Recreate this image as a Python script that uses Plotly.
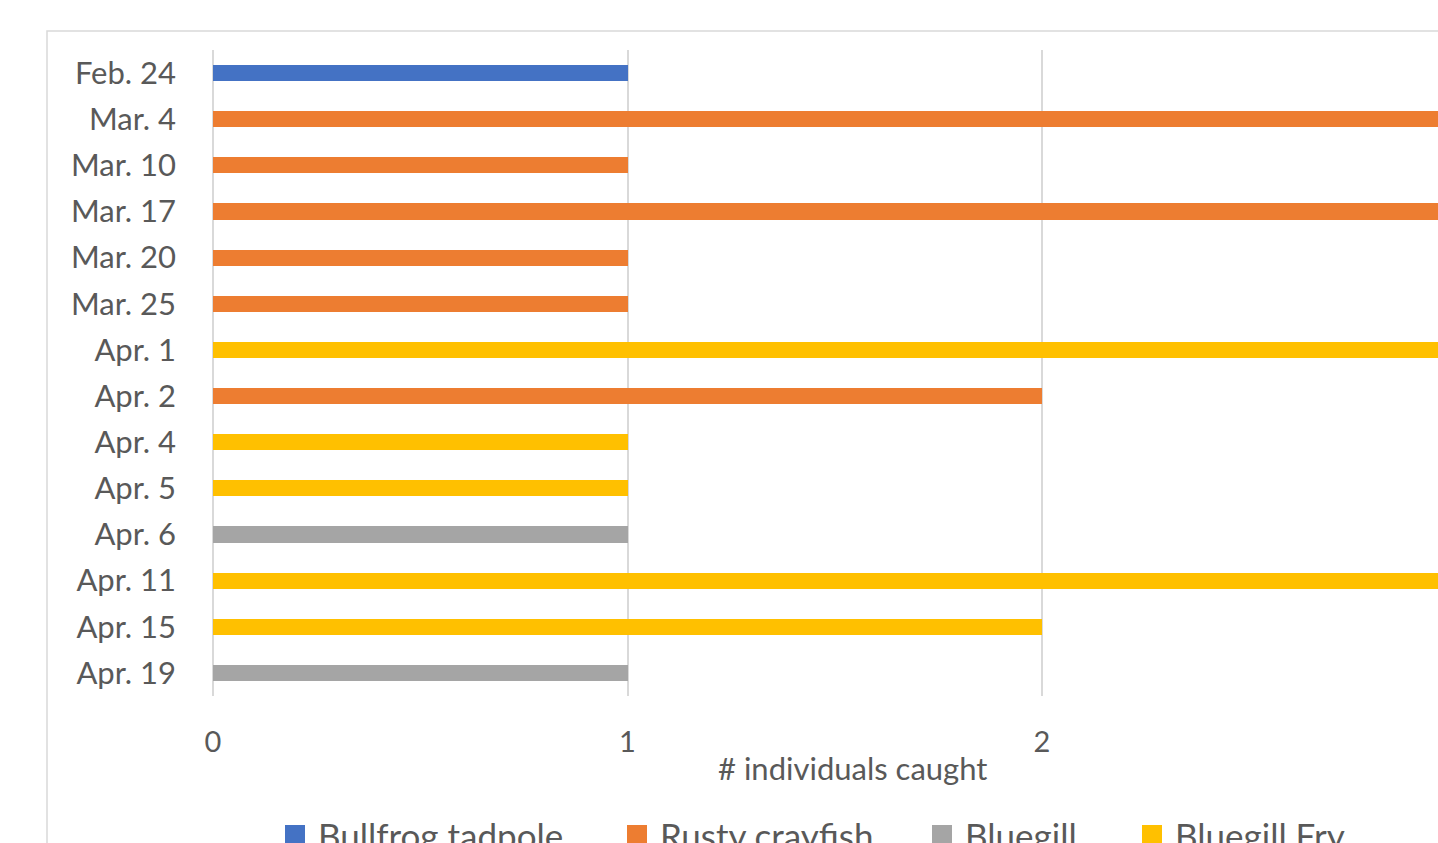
import plotly.graph_objects as go

# Sampling dates (top to bottom) and catch counts per species
dates = ["Feb. 24", "Mar. 4", "Mar. 10", "Mar. 17", "Mar. 20", "Mar. 25", "Apr. 1",
         "Apr. 2", "Apr. 4", "Apr. 5", "Apr. 6", "Apr. 11", "Apr. 15", "Apr. 19"]
bullfrog_tadpole = [1, 0, 0, 0, 0, 0, 0, 0, 0, 0, 0, 0, 0, 0]
rusty_crayfish   = [0, 3, 1, 3, 1, 1, 0, 2, 0, 0, 0, 0, 0, 0]
bluegill         = [0, 0, 0, 0, 0, 0, 0, 0, 0, 0, 1, 0, 0, 1]
bluegill_fry     = [0, 0, 0, 0, 0, 0, 3, 0, 1, 1, 0, 3, 2, 0]
x_ticks = [0, 1, 2, 3]

series = [
    ("Bullfrog tadpole", bullfrog_tadpole, "#4472C4"),
    ("Rusty crayfish", rusty_crayfish, "#ED7D31"),
    ("Bluegill", bluegill, "#A5A5A5"),
    ("Bluegill Fry", bluegill_fry, "#FFC000"),
]

FONT = "Lato"
TXT = "#595959"
GRID = "#D9D9D9"

W, H = 1438, 843
ML, MT, MB = 213, 50, 147
PW, PH = W - ML, H - MT - MB
unit_px = 414.5


def px_x(px):
    return (px - ML) / PW


def px_y(py):
    return (MT + PH - py) / PH


fig = go.Figure()
for name, vals, color in series:
    fig.add_trace(go.Bar(
        y=dates, x=[v if v else None for v in vals], name=name, orientation="h",
        marker=dict(color=color, line=dict(width=0)), width=0.35, showlegend=False,
    ))

# Legend row under the axis title: colour key squares with series names
legend_left = [285, 627, 932, 1142]
shapes = [dict(
    type="rect", xref="paper", yref="paper", layer="below",
    x0=px_x(47), x1=1.2, y0=-0.5, y1=px_y(31),
    line=dict(color=GRID, width=1.5), fillcolor="rgba(0,0,0,0)",
)]
annotations = [dict(
    text="# individuals caught", xref="paper", yref="paper",
    x=px_x(852), y=px_y(768), xanchor="center", yanchor="middle",
    showarrow=False, font=dict(family=FONT, size=31, color=TXT),
)]
for (name, _, color), lx in zip(series, legend_left):
    shapes.append(dict(
        type="rect", xref="paper", yref="paper",
        x0=px_x(lx), x1=px_x(lx + 20), y0=px_y(845), y1=px_y(825),
        line=dict(width=0), fillcolor=color,
    ))
    annotations.append(dict(
        text=name, xref="paper", yref="paper", x=px_x(lx + 31), y=px_y(835),
        xanchor="left", yanchor="middle", showarrow=False,
        font=dict(family=FONT, size=35, color=TXT),
    ))

fig.update_layout(
    width=W, height=H,
    margin=dict(l=ML, r=0, t=MT, b=MB, autoexpand=False),
    barmode="stack",
    paper_bgcolor="white", plot_bgcolor="white",
    font=dict(family=FONT, color=TXT, size=31),
    showlegend=False,
    xaxis=dict(
        range=[0, PW / unit_px], tickvals=x_ticks, showgrid=True, gridcolor=GRID,
        gridwidth=1.5, zeroline=True, zerolinecolor=GRID, zerolinewidth=1.5,
        showline=False, ticks="", ticklabelstandoff=26,
        tickfont=dict(family=FONT, size=29, color=TXT), fixedrange=True,
    ),
    yaxis=dict(
        categoryorder="array", categoryarray=dates, autorange="reversed",
        showgrid=False, zeroline=False, showline=False, ticks="",
        ticklabelstandoff=36, tickfont=dict(family=FONT, size=31, color=TXT),
        fixedrange=True,
    ),
    shapes=shapes,
    annotations=annotations,
)

fig.write_html("out.html", config={"displayModeBar": False})
